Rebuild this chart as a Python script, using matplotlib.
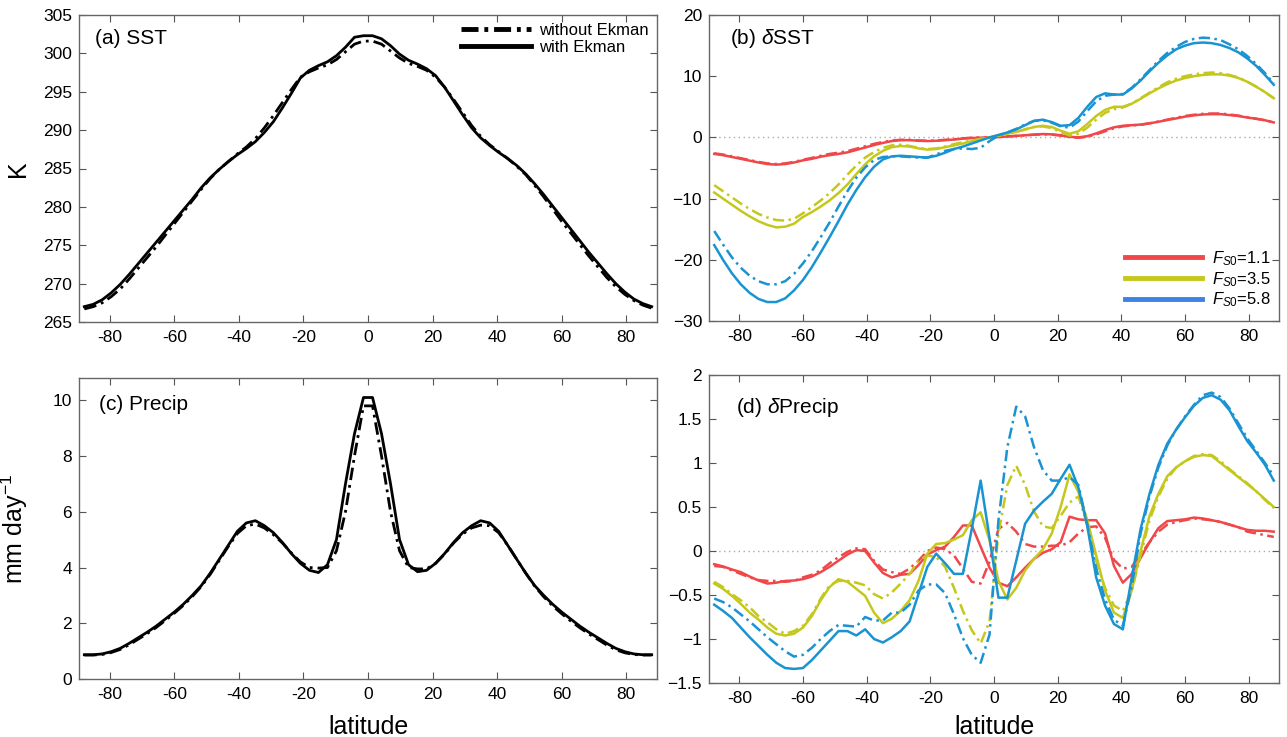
import matplotlib
matplotlib.use('Agg')
import matplotlib.pyplot as plt
from matplotlib.lines import Line2D
from matplotlib.ticker import FuncFormatter

############################### Constants ######################################
W, H = 1287, 737
RED = '#f0474a'
YELLOW = '#c5c81c'
BLUE = '#1993d2'
LEGEND_BLUE = '#3d82e6'
DASHDOT = (0, (4.5, 1.8, 1, 1.8))
FONT = ['Liberation Sans', 'DejaVu Sans']

plt.rcParams['font.family'] = FONT
plt.rcParams['mathtext.fontset'] = 'custom'
plt.rcParams['mathtext.rm'] = 'Liberation Sans'
plt.rcParams['mathtext.it'] = 'Liberation Sans:italic'
plt.rcParams['axes.unicode_minus'] = False

################################# Data #########################################
# T42 gaussian latitudes (northern half), southern half is the mirror
LAT_N = [1.40, 4.19, 6.98, 9.77, 12.56, 15.35, 18.14, 20.93, 23.72, 26.51,
         29.30, 32.09, 34.88, 37.67, 40.46, 43.25, 46.04, 48.84, 51.63, 54.42,
         57.21, 60.00, 62.79, 65.58, 68.37, 71.16, 73.95, 76.74, 79.53, 82.31,
         85.10, 87.86]
lat = [-v for v in reversed(LAT_N)] + LAT_N

XTICKS = [-80, -60, -40, -20, 0, 20, 40, 60, 80]

# (a) SST [K]
sst_with = [267.0, 267.3, 267.9, 268.8, 269.9, 271.2, 272.6, 274.0, 275.4, 276.8,
            278.2, 279.6, 281.0, 282.5, 283.8, 284.9, 285.9, 286.8, 287.6, 288.5,
            289.7, 291.1, 292.9, 294.8, 296.8, 297.8, 298.4, 298.9, 299.7, 300.8,
            302.1, 302.3,
            302.3, 301.9, 301.0, 299.9, 299.1, 298.6, 298.0, 297.1, 295.6, 293.8,
            292.0, 290.3, 289.0, 288.0, 287.1, 286.3, 285.4, 284.3, 283.0, 281.6,
            280.1, 278.6, 277.1, 275.6, 274.1, 272.7, 271.3, 270.0, 268.9, 268.0,
            267.4, 267.0]
sst_without = [266.7, 267.0, 267.5, 268.3, 269.3, 270.6, 272.0, 273.4, 274.8, 276.3,
               277.8, 279.3, 280.8, 282.3, 283.7, 284.9, 285.9, 286.9, 287.8, 288.9,
               290.3, 291.9, 293.6, 295.3, 296.9, 297.6, 298.1, 298.5, 299.2, 300.2,
               301.2, 301.6,
               301.6, 301.2, 300.3, 299.4, 298.7, 298.3, 297.8, 296.9, 295.6, 294.0,
               292.3, 290.6, 289.2, 288.1, 287.2, 286.3, 285.3, 284.2, 282.8, 281.3,
               279.7, 278.1, 276.6, 275.1, 273.6, 272.2, 270.8, 269.6, 268.6, 267.8,
               267.2, 266.8]

# (b) dSST [K], with Ekman (solid) / without Ekman (dash-dot)
dsst_11 = [-2.7, -2.9, -3.2, -3.5, -3.8, -4.1, -4.35, -4.45, -4.35, -4.1,
           -3.75, -3.5, -3.15, -2.9, -2.7, -2.45, -2.05, -1.65, -1.25, -0.9,
           -0.6, -0.45, -0.45, -0.55, -0.6, -0.55, -0.45, -0.35, -0.2, -0.1,
           -0.05, 0.0,
           0.05, 0.15, 0.25, 0.35, 0.45, 0.55, 0.5, 0.35, 0.1, 0.0,
           0.2, 0.65, 1.2, 1.65, 1.9, 2.0, 2.1, 2.3, 2.55, 2.85,
           3.1, 3.4, 3.6, 3.75, 3.8, 3.8, 3.65, 3.5, 3.25, 3.05,
           2.8, 2.45]
dsst_11_noek = [-2.6, -2.8, -3.1, -3.4, -3.7, -4.0, -4.25, -4.35, -4.25, -4.0,
                -3.65, -3.35, -3.0, -2.7, -2.5, -2.25, -1.85, -1.45, -1.05, -0.75,
                -0.5, -0.4, -0.4, -0.5, -0.55, -0.5, -0.4, -0.3, -0.15, -0.05,
                0.0, 0.0,
                0.05, 0.15, 0.25, 0.35, 0.45, 0.5, 0.45, 0.3, 0.05, -0.05,
                0.1, 0.5, 1.0, 1.5, 1.8, 1.95, 2.05, 2.3, 2.6, 2.9,
                3.2, 3.5, 3.7, 3.85, 3.9, 3.9, 3.75, 3.55, 3.3, 3.05,
                2.8, 2.45]
dsst_35 = [-9.0, -10.0, -11.0, -12.0, -12.9, -13.7, -14.3, -14.7, -14.6, -14.1,
           -13.0, -12.2, -11.3, -10.3, -9.1, -7.7, -6.0, -4.4, -3.1, -2.2,
           -1.6, -1.4, -1.5, -1.8, -2.0, -1.9, -1.6, -1.3, -1.0, -0.6,
           -0.3, 0.0,
           0.3, 0.6, 0.9, 1.3, 1.7, 1.9, 1.7, 1.1, 0.6, 1.0,
           2.2, 3.5, 4.5, 5.0, 5.0, 5.5, 6.3, 7.2, 8.0, 8.7,
           9.3, 9.7, 10.0, 10.2, 10.3, 10.3, 10.1, 9.7, 9.1, 8.3,
           7.4, 6.4]
dsst_35_noek = [-7.8, -8.8, -9.8, -10.8, -11.7, -12.5, -13.1, -13.5, -13.6, -13.3,
                -12.4, -11.4, -10.3, -9.1, -7.7, -6.1, -4.6, -3.3, -2.4, -1.7,
                -1.3, -1.2, -1.4, -1.7, -1.9, -1.8, -1.5, -1.1, -0.8, -0.5,
                -0.25, 0.0,
                0.3, 0.6, 0.9, 1.3, 1.7, 1.8, 1.5, 0.9, 0.3, 0.6,
                1.6, 2.9, 4.0, 4.6, 4.9, 5.5, 6.4, 7.3, 8.2, 9.0,
                9.6, 10.0, 10.3, 10.5, 10.6, 10.5, 10.2, 9.8, 9.1, 8.3,
                7.4, 6.4]
dsst_58 = [-17.6, -20.0, -22.2, -24.0, -25.4, -26.4, -26.9, -26.9, -26.3, -25.0,
           -23.3, -21.2, -18.8, -16.3, -13.7, -11.0, -8.6, -6.5, -4.8, -3.6,
           -3.1, -3.0, -3.1, -3.2, -3.3, -3.0, -2.5, -1.9, -1.5, -1.0,
           -0.5, 0.0,
           0.4, 0.8, 1.3, 2.0, 2.7, 2.9, 2.5, 1.9, 2.0, 3.2,
           5.0, 6.6, 7.2, 7.0, 7.0, 8.0, 9.3, 10.8, 12.2, 13.4,
           14.4, 15.0, 15.4, 15.5, 15.4, 15.1, 14.6, 13.9, 12.9, 11.7,
           10.2, 8.6]
dsst_58_noek = [-15.3, -17.5, -19.6, -21.3, -22.6, -23.5, -24.0, -24.0, -23.5, -22.3,
                -20.6, -18.6, -16.3, -13.9, -11.3, -8.8, -6.6, -4.9, -3.7, -3.2,
                -3.1, -3.1, -3.2, -3.3, -3.3, -2.8, -2.2, -1.9, -1.8, -1.9,
                -1.7, -0.6,
                0.3, 0.8, 1.4, 2.1, 2.7, 2.8, 2.4, 1.8, 1.6, 2.6,
                4.3, 5.9, 6.8, 7.0, 7.1, 8.1, 9.5, 11.0, 12.5, 13.8,
                14.8, 15.6, 16.1, 16.3, 16.2, 15.9, 15.2, 14.4, 13.3, 12.0,
                10.5, 8.8]

# (c) precipitation [mm/day]
precip_with = [0.87, 0.87, 0.90, 0.98, 1.10, 1.28, 1.48, 1.68, 1.90, 2.15,
               2.40, 2.68, 3.00, 3.35, 3.80, 4.30, 4.80, 5.30, 5.60, 5.68,
               5.50, 5.25, 4.90, 4.50, 4.15, 3.90, 3.82, 4.10, 5.00, 7.00,
               8.80, 10.1,
               10.1, 8.80, 7.00, 5.00, 4.10, 3.85, 3.90, 4.15, 4.50, 4.90,
               5.25, 5.50, 5.68, 5.60, 5.30, 4.80, 4.30, 3.80, 3.35, 3.00,
               2.68, 2.40, 2.15, 1.90, 1.68, 1.48, 1.28, 1.10, 0.98, 0.90,
               0.87, 0.87]
precip_without = [0.86, 0.86, 0.88, 0.95, 1.06, 1.23, 1.43, 1.63, 1.85, 2.10,
                  2.36, 2.64, 2.96, 3.32, 3.76, 4.26, 4.76, 5.22, 5.50, 5.56,
                  5.42, 5.18, 4.88, 4.52, 4.20, 4.00, 3.98, 4.00, 4.60, 6.00,
                  8.00, 9.80,
                  9.80, 8.00, 6.00, 4.60, 4.00, 3.95, 3.95, 4.15, 4.48, 4.88,
                  5.20, 5.42, 5.52, 5.50, 5.25, 4.80, 4.30, 3.80, 3.33, 2.95,
                  2.62, 2.34, 2.08, 1.84, 1.62, 1.42, 1.22, 1.05, 0.94, 0.88,
                  0.86, 0.86]

# (d) dPrecip [mm/day]
dpr_11 = [-0.15, -0.175, -0.21, -0.24, -0.29, -0.335, -0.37, -0.36, -0.34, -0.335,
          -0.32, -0.29, -0.24, -0.18, -0.11, -0.04, 0.01, 0.0, -0.13, -0.25,
          -0.30, -0.27, -0.26, -0.16, -0.04, 0.01, 0.05, 0.16, 0.29, 0.29,
          0.05, -0.19,
          -0.36, -0.40, -0.30, -0.19, -0.09, -0.02, 0.02, 0.10, 0.39, 0.36,
          0.35, 0.35, 0.20, -0.17, -0.36, -0.26, -0.08, 0.10, 0.26, 0.34,
          0.35, 0.36, 0.38, 0.37, 0.35, 0.33, 0.30, 0.27, 0.24, 0.23,
          0.23, 0.22]
dpr_11_noek = [-0.17, -0.18, -0.22, -0.26, -0.30, -0.33, -0.34, -0.34, -0.35, -0.34,
               -0.30, -0.27, -0.22, -0.14, -0.07, -0.01, 0.03, 0.02, -0.11, -0.21,
               -0.24, -0.26, -0.20, -0.11, 0.0, 0.04, 0.02, -0.05, -0.20, -0.35,
               -0.37, -0.12,
               0.25, 0.32, 0.22, 0.08, 0.05, 0.05, 0.06, 0.06, 0.10, 0.20,
               0.27, 0.28, 0.15, -0.10, -0.20, -0.18, -0.04, 0.10, 0.22, 0.30,
               0.33, 0.35, 0.37, 0.36, 0.35, 0.33, 0.30, 0.27, 0.22, 0.20,
               0.18, 0.16]
dpr_35 = [-0.37, -0.43, -0.51, -0.60, -0.70, -0.78, -0.87, -0.94, -0.96, -0.94,
          -0.87, -0.74, -0.56, -0.41, -0.32, -0.35, -0.43, -0.51, -0.70, -0.82,
          -0.77, -0.68, -0.56, -0.34, -0.03, 0.08, 0.09, 0.13, 0.18, 0.35,
          0.44, 0.12,
          -0.34, -0.55, -0.42, -0.22, -0.09, 0.02, 0.20, 0.50, 0.87, 0.67,
          0.35, -0.05, -0.45, -0.70, -0.76, -0.45, 0.0, 0.40, 0.65, 0.85,
          0.95, 1.02, 1.07, 1.09, 1.08, 1.00, 0.92, 0.84, 0.76, 0.68,
          0.59, 0.50]
dpr_35_noek = [-0.35, -0.41, -0.49, -0.56, -0.64, -0.74, -0.81, -0.89, -0.94, -0.91,
               -0.85, -0.72, -0.54, -0.39, -0.34, -0.34, -0.36, -0.39, -0.49, -0.54,
               -0.47, -0.37, -0.26, -0.11, -0.05, -0.07, -0.18, -0.42, -0.68, -0.90,
               -1.05, -0.80,
               0.20, 0.75, 0.97, 0.75, 0.45, 0.28, 0.26, 0.40, 0.55, 0.62,
               0.30, -0.12, -0.42, -0.62, -0.68, -0.45, -0.05, 0.35, 0.62, 0.82,
               0.95, 1.02, 1.08, 1.10, 1.09, 1.02, 0.93, 0.85, 0.77, 0.68,
               0.58, 0.49]
dpr_58 = [-0.61, -0.68, -0.76, -0.87, -0.98, -1.08, -1.18, -1.27, -1.33, -1.34,
          -1.33, -1.24, -1.13, -1.02, -0.91, -0.91, -0.96, -0.89, -1.00, -1.04,
          -0.98, -0.91, -0.80, -0.49, -0.18, -0.03, -0.14, -0.26, -0.26, 0.25,
          0.80, 0.15,
          -0.53, -0.53, -0.11, 0.31, 0.46, 0.56, 0.65, 0.82, 0.98, 0.72,
          0.28, -0.30, -0.62, -0.83, -0.89, -0.30, 0.25, 0.65, 0.98, 1.22,
          1.38, 1.52, 1.65, 1.74, 1.77, 1.72, 1.60, 1.42, 1.25, 1.12,
          0.98, 0.80]
dpr_58_noek = [-0.54, -0.58, -0.64, -0.72, -0.80, -0.89, -0.98, -1.06, -1.14, -1.20,
               -1.18, -1.10, -1.00, -0.91, -0.84, -0.85, -0.86, -0.75, -0.79, -0.79,
               -0.70, -0.70, -0.61, -0.45, -0.38, -0.38, -0.48, -0.72, -0.99, -1.18,
               -1.27, -0.95,
               0.35, 1.18, 1.64, 1.53, 1.18, 0.92, 0.80, 0.80, 0.84, 0.75,
               0.30, -0.20, -0.55, -0.78, -0.85, -0.40, 0.20, 0.62, 0.95, 1.20,
               1.38, 1.53, 1.66, 1.77, 1.80, 1.75, 1.62, 1.45, 1.28, 1.14,
               1.00, 0.85]

FS_LABELS = [r'$F_{\mathit{S0}}$=1.1', r'$F_{\mathit{S0}}$=3.5', r'$F_{\mathit{S0}}$=5.8']

############################### Functions ######################################

# axes placed by pixel box (left, top, right, bottom) of the reference
def place_axes(fig, left, top, right, bottom):
    return fig.add_axes([left / W, (H - bottom) / H, (right - left) / W, (bottom - top) / H])

# matlab-like look: ticks inside, on all four sides
def graph_setting(ax, ylim, yticks, unicode_minus=False):
    ax.set_xlim(-89.5, 89.5)
    ax.set_ylim(*ylim)
    ax.set_xticks(XTICKS)
    ax.set_yticks(yticks)
    ax.xaxis.set_major_formatter(FuncFormatter(lambda v, p: '%g' % v))
    if unicode_minus:
        ax.yaxis.set_major_formatter(FuncFormatter(lambda v, p: ('%g' % v).replace('-', '\u2212')))
    else:
        ax.yaxis.set_major_formatter(FuncFormatter(lambda v, p: '%g' % v))
    ax.tick_params(direction='in', top=True, right=True, length=5, width=0.8,
                   color='#555555', labelsize=12.5, pad=5)
    ax.tick_params(axis='x', pad=6)
    for s in ax.spines.values():
        s.set_color('#666666')
        s.set_linewidth(1.0)

def panel_title(ax, x, y, text):
    ax.text(x, y, text, transform=ax.transAxes, fontsize=15, ha='left', va='center')

def zero_line(ax):
    ax.axhline(0, color='#aaaaaa', lw=1.0, ls=(0, (1, 2.5)), zorder=1)

def pair(ax, y_ek, y_noek, color, lw=1.8):
    ax.plot(lat, y_noek, color=color, lw=lw, ls=DASHDOT)
    ax.plot(lat, y_ek, color=color, lw=lw, ls='-')

################################# Figure #######################################
fig = plt.figure(figsize=(W / 100, H / 100), dpi=100)

# (a) SST
ax_a = place_axes(fig, 79, 15, 657, 322)
ax_a.plot(lat, sst_without, color='k', lw=2.0, ls=DASHDOT)
ax_a.plot(lat, sst_with, color='k', lw=2.0)
graph_setting(ax_a, (265, 305), range(265, 306, 5))
panel_title(ax_a, 0.028, 0.922, '(a) SST')
ax_a.set_ylabel('K', fontsize=18)
ax_a.yaxis.set_label_coords(-0.084, 0.5)
handles = [Line2D([], [], color='k', lw=3.5, ls=(0, (3.5, 1.2, 0.8, 1.2))),
           Line2D([], [], color='k', lw=3.5)]
ax_a.legend(handles, ['without Ekman', 'with Ekman'], loc='upper right',
            bbox_to_anchor=(0.986, 0.975), frameon=False, fontsize=12,
            handlelength=4.2, handletextpad=0.5, labelspacing=0.12,
            borderpad=0, borderaxespad=0)

# (b) dSST
ax_b = place_axes(fig, 709, 15, 1279, 321)
zero_line(ax_b)
pair(ax_b, dsst_11, dsst_11_noek, RED)
pair(ax_b, dsst_35, dsst_35_noek, YELLOW)
pair(ax_b, dsst_58, dsst_58_noek, BLUE)
graph_setting(ax_b, (-30, 20), range(-30, 21, 10), unicode_minus=True)
panel_title(ax_b, 0.037, 0.922, r'(b) $\delta$SST')
handles = [Line2D([], [], color=c, lw=3.5) for c in (RED, YELLOW, LEGEND_BLUE)]
ax_b.legend(handles, FS_LABELS, loc='lower right', bbox_to_anchor=(0.986, 0.038),
            frameon=False, fontsize=12, handlelength=4.6, handletextpad=0.6,
            labelspacing=0.12, borderpad=0, borderaxespad=0)

# (c) Precip
ax_c = place_axes(fig, 79, 378, 657, 679)
ax_c.plot(lat, precip_without, color='k', lw=2.0, ls=DASHDOT)
ax_c.plot(lat, precip_with, color='k', lw=2.0)
graph_setting(ax_c, (0, 10.8), range(0, 11, 2))
panel_title(ax_c, 0.035, 0.912, '(c) Precip')
ax_c.set_ylabel('mm day$^{-1}$', fontsize=18)
ax_c.yaxis.set_label_coords(-0.084, 0.5)
ax_c.set_xlabel('latitude', fontsize=18)
ax_c.xaxis.set_label_coords(0.5, -0.118)

# (d) dPrecip
ax_d = place_axes(fig, 709, 375, 1279, 683)
zero_line(ax_d)
pair(ax_d, dpr_11, dpr_11_noek, RED)
pair(ax_d, dpr_35, dpr_35_noek, YELLOW)
pair(ax_d, dpr_58, dpr_58_noek, BLUE)
graph_setting(ax_d, (-1.5, 2), [-1.5, -1, -0.5, 0, 0.5, 1, 1.5, 2], unicode_minus=True)
panel_title(ax_d, 0.048, 0.893, r'(d) $\delta$Precip')
ax_d.set_xlabel('latitude', fontsize=18)
ax_d.xaxis.set_label_coords(0.5, -0.105)

fig.savefig('out.png', dpi=100)
